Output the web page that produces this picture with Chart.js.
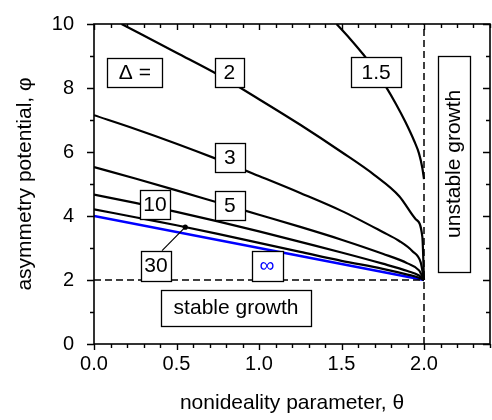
<!DOCTYPE html>
<html>
<head>
<meta charset="utf-8">
<script src="https://cdn.jsdelivr.net/npm/chart.js@4.4.0/dist/chart.umd.min.js"></script>
<style>
  html, body { margin: 0; padding: 0; background: #fff; }
  #growthChart { display: block; }
</style>
</head>
<body>
<canvas id="growthChart" width="492" height="420"></canvas>
<script>
// --- curve data: nonideality θ (x) vs asymmetry potential φ (y), one pair per Δ ---
const thetaD15 = [1.47, 1.55, 1.635, 1.7, 1.768, 1.83, 1.886, 1.94, 1.97, 1.99, 2.0];
const phiD15   = [10.0, 9.55, 9.03, 8.58, 8.05, 7.5, 6.95, 6.35, 5.95, 5.5, 5.15];

const thetaD2 = [0.167, 0.5, 0.75, 1.0, 1.25, 1.5, 1.7, 1.85, 1.95, 1.99, 2.0];
const phiD2   = [10.0, 9.1, 8.42, 7.65, 6.85, 6.0, 5.28, 4.62, 3.9, 3.35, 2.0];

const thetaD3 = [0, 0.25, 0.5, 0.75, 1.0, 1.25, 1.5, 1.75, 1.85, 1.93, 1.98, 2.0];
const phiD3   = [7.15, 6.72, 6.26, 5.77, 5.25, 4.72, 4.16, 3.5, 3.22, 2.9, 2.55, 2.0];

const thetaGrid = [0, 0.25, 0.5, 0.75, 1.0, 1.25, 1.5, 1.75, 1.9, 1.97, 2.0];
const phiD5  = [5.53, 5.17, 4.8, 4.42, 4.04, 3.66, 3.26, 2.82, 2.52, 2.3, 2.0];
const phiD10 = [4.67, 4.41, 4.13, 3.83, 3.52, 3.19, 2.86, 2.51, 2.28, 2.14, 2.0];
const phiD30 = [4.21, 3.96, 3.71, 3.44, 3.16, 2.88, 2.6, 2.35, 2.17, 2.07, 2.0];

const thetaInf = [0, 2.0];
const phiInf   = [4.0, 2.0];

// stability boundaries
const boundaryPhi = 2;
const boundaryTheta = 2;

// point on the Δ = 30 curve tied to its label
const markerTheta = 0.553;
const markerPhi = 3.65;

// axes
const xTickValues = [0, 0.5, 1.0, 1.5, 2.0];
const yTickValues = [0, 2, 4, 6, 8, 10];
const xMax = 2.4;
const yMax = 10;

const FONT = "'Liberation Sans', Arial, Helvetica, sans-serif";
const BLUE = '#0000ff';

const pts = (xs, ys) => xs.map((x, i) => ({ x: x, y: ys[i] }));

function curve(label, xs, ys, color, width) {
    return {
        label: label,
        data: pts(xs, ys),
        borderColor: color || '#000',
        borderWidth: width || 2.2,
        pointRadius: 0,
        showLine: true,
        cubicInterpolationMode: 'monotone',
        fill: false
    };
}

function dashed(label, xs, ys) {
    return {
        label: label,
        data: pts(xs, ys),
        borderColor: '#000',
        borderWidth: 1.5,
        borderDash: [7, 4],
        pointRadius: 0,
        showLine: true,
        fill: false
    };
}

// boxed text labels, placed in data coordinates
const notes = [
    { text: 'Δ =', x: 0.248, y: 8.49, w: 55, h: 29 },
    { text: '2', x: 0.82, y: 8.48, w: 29, h: 29 },
    { text: '1.5', x: 1.71, y: 8.5, w: 50, h: 30 },
    { text: '3', x: 0.824, y: 5.83, w: 30, h: 29 },
    { text: '5', x: 0.824, y: 4.34, w: 30, h: 29 },
    { text: '10', x: 0.37, y: 4.36, w: 30, h: 29 },
    { text: '30', x: 0.376, y: 2.45, w: 30, h: 30 },
    { text: '∞', x: 1.049, y: 2.45, w: 31, h: 30, color: BLUE },
    { text: 'stable growth', x: 0.861, y: 1.14, w: 150, h: 36 },
    { text: 'unstable growth', x: 2.18, y: 5.63, w: 32, h: 216, vertical: true }
];

const labelBoxes = {
    id: 'labelBoxes',
    afterDatasetsDraw(chart) {
        const { ctx, scales: { x, y } } = chart;
        ctx.save();

        // leader from the "30" box to its curve
        const mx = x.getPixelForValue(markerTheta);
        const my = y.getPixelForValue(markerPhi);
        const b30 = notes.find(n => n.text === '30');
        const bx = x.getPixelForValue(b30.x) + b30.w / 2 - 9;
        const by = y.getPixelForValue(b30.y) - b30.h / 2;
        ctx.strokeStyle = '#000';
        ctx.lineWidth = 1.2;
        ctx.beginPath();
        ctx.moveTo(bx, by);
        ctx.lineTo(mx, my);
        ctx.stroke();
        ctx.fillStyle = '#000';
        ctx.beginPath();
        ctx.arc(mx, my, 2.6, 0, Math.PI * 2);
        ctx.fill();

        ctx.font = '21px ' + FONT;
        ctx.textAlign = 'center';
        ctx.textBaseline = 'middle';
        notes.forEach(n => {
            const cx = x.getPixelForValue(n.x);
            const cy = y.getPixelForValue(n.y);
            const left = Math.round(cx - n.w / 2) + 0.5;
            const top = Math.round(cy - n.h / 2) + 0.5;
            ctx.fillStyle = '#fff';
            ctx.fillRect(left, top, n.w, n.h);
            ctx.strokeStyle = '#000';
            ctx.lineWidth = 1.3;
            ctx.strokeRect(left, top, n.w, n.h);
            ctx.fillStyle = n.color || '#000';
            if (n.vertical) {
                ctx.save();
                ctx.translate(cx, cy);
                ctx.rotate(-Math.PI / 2);
                ctx.fillText(n.text, 0, 1);
                ctx.restore();
            } else {
                ctx.fillText(n.text, cx, cy + 1);
            }
        });
        ctx.restore();
    }
};

// frame plus outward ticks on bottom/left, inward ticks on top/right
const frameTicks = {
    id: 'frameTicks',
    afterDraw(chart) {
        const { ctx, chartArea: a, scales: { x, y } } = chart;
        ctx.save();
        ctx.strokeStyle = '#000';
        ctx.lineWidth = 1.6;
        ctx.strokeRect(a.left, a.top, a.right - a.left, a.bottom - a.top);

        ctx.lineWidth = 1.4;
        ctx.beginPath();
        for (let k = 0; k <= Math.round(xMax * 10); k++) {
            const px = Math.round(x.getPixelForValue(k / 10)) + 0.5;
            const len = k % 5 === 0 ? 6 : 4;
            ctx.moveTo(px, a.bottom);
            ctx.lineTo(px, a.bottom + len);
            ctx.moveTo(px, a.top);
            ctx.lineTo(px, a.top + len);
        }
        for (let k = 0; k <= yMax; k++) {
            const py = Math.round(y.getPixelForValue(k)) + 0.5;
            const len = k % 2 === 0 ? 7 : 4;
            ctx.moveTo(a.left, py);
            ctx.lineTo(a.left - len, py);
            ctx.moveTo(a.right, py);
            ctx.lineTo(a.right - len, py);
        }
        ctx.stroke();
        ctx.restore();
    }
};

new Chart(document.getElementById('growthChart'), {
    type: 'scatter',
    data: {
        datasets: [
            dashed('φ = 2', [0, boundaryTheta], [boundaryPhi, boundaryPhi]),
            dashed('θ = 2', [boundaryTheta, boundaryTheta], [0, yMax]),
            curve('Δ = 1.5', thetaD15, phiD15),
            curve('Δ = 2', thetaD2, phiD2),
            curve('Δ = 3', thetaD3, phiD3),
            curve('Δ = 5', thetaGrid, phiD5),
            curve('Δ = 10', thetaGrid, phiD10),
            curve('Δ = 30', thetaGrid, phiD30),
            curve('Δ = ∞', thetaInf, phiInf, BLUE, 2.6)
        ]
    },
    options: {
        responsive: false,
        animation: false,
        layout: { padding: { top: 13, right: 2, left: 0, bottom: 0 } },
        plugins: { legend: { display: false }, tooltip: { enabled: false } },
        scales: {
            x: {
                type: 'linear',
                min: 0,
                max: xMax,
                grid: { display: false },
                border: { display: false },
                afterBuildTicks: s => { s.ticks = xTickValues.map(v => ({ value: v })); },
                afterFit: s => { s.height = 76; },
                ticks: {
                    color: '#000',
                    font: { family: FONT, size: 20 },
                    padding: 0,
                    maxRotation: 0,
                    autoSkip: false,
                    callback: v => Number(v).toFixed(1)
                },
                title: {
                    display: true,
                    text: 'nonideality parameter, θ',
                    color: '#000',
                    font: { family: FONT, size: 21 },
                    padding: { top: 0, bottom: 4 }
                }
            },
            y: {
                type: 'linear',
                min: 0,
                max: yMax,
                grid: { display: false },
                border: { display: false },
                afterBuildTicks: s => { s.ticks = yTickValues.map(v => ({ value: v })); },
                afterFit: s => { s.width = 94; },
                ticks: {
                    color: '#000',
                    font: { family: FONT, size: 20 },
                    padding: 12,
                    autoSkip: false
                },
                title: {
                    display: true,
                    text: 'asymmetry potential, φ',
                    color: '#000',
                    font: { family: FONT, size: 21 },
                    padding: { top: 13, bottom: 0 }
                }
            }
        }
    },
    plugins: [labelBoxes, frameTicks]
});
</script>
</body>
</html>
